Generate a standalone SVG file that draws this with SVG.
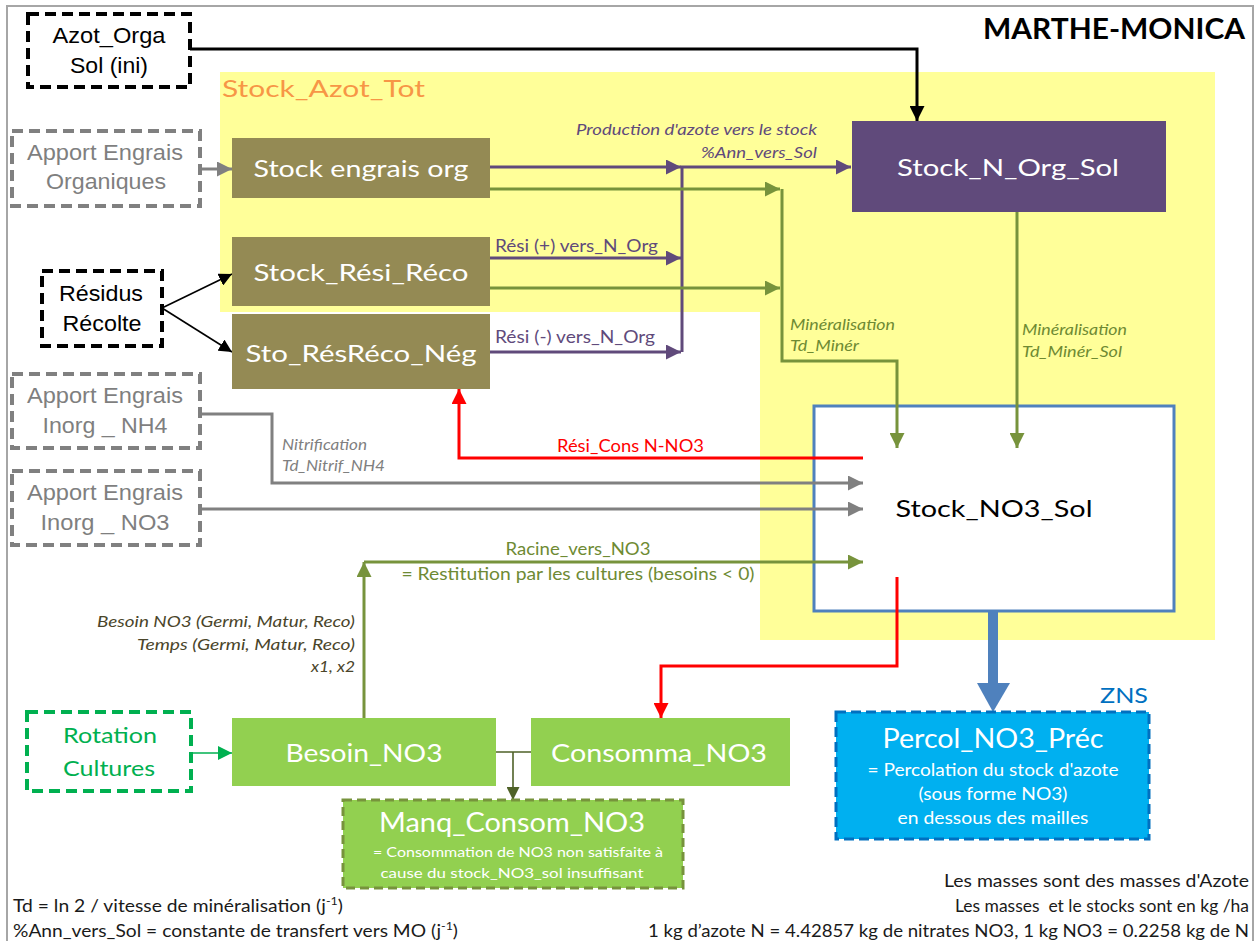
<svg xmlns="http://www.w3.org/2000/svg" width="1256" height="941" viewBox="0 0 1256 941">
<defs>
<style>
text { font-family: Lato, "Noto Sans", sans-serif; }
.ar { font-family: "Liberation Sans", Arial, sans-serif; }
.w { fill: #ffffff; }
.it { font-style: italic; }
.mid { text-anchor: middle; }
.end { text-anchor: end; }
.ln { fill: none; stroke-width: 3; }
.thin { fill: none; stroke-width: 1.6; }
.olive { fill: #948A54; }
.lgreen { fill: #92D050; }
.dashBlk { fill: #ffffff; stroke: #000000; stroke-width: 4; stroke-dasharray: 11 6; }
.dashGry { fill: #ffffff; stroke: #808080; stroke-width: 4; stroke-dasharray: 11 6; }
.gryTxt { fill: #7F7F7F; }
.pur { stroke: #604A7B; }
.grn { stroke: #77933C; }
.gry { stroke: #808080; }
.red { stroke: #FF0000; }
</style>
<marker id="aPur" markerUnits="userSpaceOnUse" markerWidth="15" markerHeight="15" refX="15" refY="7.5" orient="auto"><path d="M0,0 L15,7.5 L0,15 z" fill="#604A7B"/></marker>
<marker id="aGrn" markerUnits="userSpaceOnUse" markerWidth="15" markerHeight="15" refX="15" refY="7.5" orient="auto"><path d="M0,0 L15,7.5 L0,15 z" fill="#77933C"/></marker>
<marker id="aGry" markerUnits="userSpaceOnUse" markerWidth="15" markerHeight="15" refX="15" refY="7.5" orient="auto"><path d="M0,0 L15,7.5 L0,15 z" fill="#808080"/></marker>
<marker id="aRed" markerUnits="userSpaceOnUse" markerWidth="15" markerHeight="15" refX="15" refY="7.5" orient="auto"><path d="M0,0 L15,7.5 L0,15 z" fill="#FF0000"/></marker>
<marker id="aBlk" markerUnits="userSpaceOnUse" markerWidth="15" markerHeight="15" refX="15" refY="7.5" orient="auto"><path d="M0,0 L15,7.5 L0,15 z" fill="#000000"/></marker>
<marker id="aBlkS" markerUnits="userSpaceOnUse" markerWidth="13" markerHeight="13" refX="13" refY="6.5" orient="auto"><path d="M0,0 L13,6.5 L0,13 z" fill="#000000"/></marker>
<marker id="aRot" markerUnits="userSpaceOnUse" markerWidth="14" markerHeight="14" refX="14" refY="7" orient="auto"><path d="M0,0 L14,7 L0,14 z" fill="#00B050"/></marker>
<marker id="aDk" markerUnits="userSpaceOnUse" markerWidth="13" markerHeight="13" refX="13" refY="6.5" orient="auto"><path d="M0,0 L13,6.5 L0,13 z" fill="#4F6228"/></marker>
</defs>

<rect x="0" y="0" width="1256" height="941" fill="#ffffff"/>
<!-- outer frame -->
<rect x="7" y="6" width="1246" height="945" fill="none" stroke="#A6A6A6" stroke-width="2"/>

<text x="1245" y="39" class="end" font-size="28" font-weight="bold" fill="#000" textLength="262" lengthAdjust="spacingAndGlyphs">MARTHE-MONICA</text>

<!-- total nitrogen stock zone -->
<g id="zone-stock-azot-tot">
  <polygon points="220,72 1215,72 1215,640 760,640 760,312 220,312" fill="#FFFF99"/>
  <text x="222" y="97" font-size="24" fill="#F79646" textLength="203" lengthAdjust="spacingAndGlyphs">Stock_Azot_Tot</text>
</g>

<!-- soil nitrate stock: flows end inside it, so it sits below the connectors -->
<g id="stock-no3-sol">
  <rect x="814" y="406" width="360" height="205" fill="#ffffff" stroke="#4F81BD" stroke-width="3"/>
  <text x="994" y="517" class="mid" font-size="24" fill="#000" textLength="197" lengthAdjust="spacingAndGlyphs">Stock_NO3_Sol</text>
</g>

<!-- connectors -->
<g id="connectors">
  <path class="ln" stroke="#000" d="M190,49 H917 V121" marker-end="url(#aBlk)"/>
  <path class="ln gry" d="M200,169 H232" marker-end="url(#aGry)"/>
  <path class="thin" stroke="#000" d="M162,308 L232,274" marker-end="url(#aBlkS)"/>
  <path class="thin" stroke="#000" d="M162,308 L232,352" marker-end="url(#aBlkS)"/>

  <!-- organic production -->
  <path class="ln pur" d="M490,167 H681" marker-end="url(#aPur)"/>
  <path class="ln pur" d="M490,258 H681" marker-end="url(#aPur)"/>
  <path class="ln pur" d="M490,352 H681" marker-end="url(#aPur)"/>
  <path class="ln pur" d="M682,352 V167 H851" marker-end="url(#aPur)"/>

  <!-- mineralisation -->
  <path class="ln grn" d="M490,189 H780" marker-end="url(#aGrn)"/>
  <path class="ln grn" d="M490,288 H780" marker-end="url(#aGrn)"/>
  <path class="ln grn" d="M782,189 V361 H897 V448" marker-end="url(#aGrn)"/>
  <path class="ln grn" d="M1017,212 V448" marker-end="url(#aGrn)"/>

  <!-- nitrification / mineral inputs -->
  <path class="ln gry" d="M200,414 H272 V483 H863" marker-end="url(#aGry)"/>
  <path class="ln gry" d="M200,509 H863" marker-end="url(#aGry)"/>

  <!-- residue consumption -->
  <path class="ln red" d="M863,458 H459 V389" marker-end="url(#aRed)"/>
  <path class="ln red" d="M897,577 V666 H661 V718" marker-end="url(#aRed)"/>

  <!-- root restitution -->
  <path class="ln grn" d="M364,718 V562" marker-end="url(#aGrn)"/>
  <path class="ln grn" d="M364,562 H863" marker-end="url(#aGrn)"/>

  <path class="thin" stroke="#00B050" d="M191,753 H232" marker-end="url(#aRot)"/>
  <path class="thin" stroke="#4F6228" d="M496,752 H531 M513,752 V800" marker-end="url(#aDk)"/>

  <!-- percolation -->
  <path d="M993,611 V684" stroke="#4F81BD" stroke-width="10" fill="none"/>
  <polygon points="977,683 1010,683 993,712" fill="#4F81BD"/>

  <!-- connector labels -->
  <text x="817" y="135" class="end it" font-size="15.5" fill="#604A7B" textLength="241" lengthAdjust="spacingAndGlyphs">Production d'azote vers le stock</text>
  <text x="817" y="158" class="end it" font-size="15.5" fill="#604A7B" textLength="116" lengthAdjust="spacingAndGlyphs">%Ann_vers_Sol</text>
  <text x="495" y="252" font-size="17" fill="#604A7B" textLength="163" lengthAdjust="spacingAndGlyphs">Rési (+) vers_N_Org</text>
  <text x="495" y="343" font-size="17" fill="#604A7B" textLength="160" lengthAdjust="spacingAndGlyphs">Rési (-) vers_N_Org</text>
  <text x="790" y="330" class="it" font-size="15" fill="#6E8A33" textLength="105" lengthAdjust="spacingAndGlyphs">Minéralisation</text>
  <text x="790" y="351" class="it" font-size="15" fill="#6E8A33" textLength="69" lengthAdjust="spacingAndGlyphs">Td_Minér</text>
  <text x="1022" y="335" class="it" font-size="15" fill="#6E8A33" textLength="105" lengthAdjust="spacingAndGlyphs">Minéralisation</text>
  <text x="1022" y="357" class="it" font-size="15" fill="#6E8A33" textLength="100" lengthAdjust="spacingAndGlyphs">Td_Minér_Sol</text>
  <text x="282" y="450" class="it" font-size="15" fill="#7F7F7F" textLength="85" lengthAdjust="spacingAndGlyphs">Nitrification</text>
  <text x="282" y="471" class="it" font-size="15" fill="#7F7F7F" textLength="103" lengthAdjust="spacingAndGlyphs">Td_Nitrif_NH4</text>
  <text x="557" y="452" font-size="17" fill="#FF0000" textLength="147" lengthAdjust="spacingAndGlyphs">Rési_Cons N-NO3</text>
  <text x="578" y="555" class="mid" font-size="17" fill="#6E8A33" textLength="145" lengthAdjust="spacingAndGlyphs">Racine_vers_NO3</text>
  <text x="578" y="580" class="mid" font-size="17" fill="#6E8A33" textLength="353" lengthAdjust="spacingAndGlyphs">= Restitution par les cultures (besoins &lt; 0)</text>
  <text x="355" y="627" class="end it" font-size="16" fill="#4A452A" textLength="258" lengthAdjust="spacingAndGlyphs">Besoin NO3 (Germi, Matur, Reco)</text>
  <text x="355" y="650" class="end it" font-size="16" fill="#4A452A" textLength="218" lengthAdjust="spacingAndGlyphs">Temps (Germi, Matur, Reco)</text>
  <text x="355" y="672" class="end it" font-size="16" fill="#4A452A" textLength="44" lengthAdjust="spacingAndGlyphs">x1, x2</text>
</g>

<!-- nodes -->
<g id="azot-orga-sol-ini">
  <rect x="28" y="14" width="162" height="73" class="dashBlk"/>
  <text x="109" y="43" class="ar mid" font-size="22" fill="#000" textLength="113" lengthAdjust="spacingAndGlyphs">Azot_Orga</text>
  <text x="109" y="73" class="ar mid" font-size="22" fill="#000" textLength="78" lengthAdjust="spacingAndGlyphs">Sol (ini)</text>
</g>

<g id="apport-engrais-organiques">
  <rect x="12" y="131" width="188" height="75" class="dashGry"/>
  <text x="105" y="160" class="ar mid gryTxt" font-size="22" textLength="156" lengthAdjust="spacingAndGlyphs">Apport Engrais</text>
  <text x="106" y="189" class="ar mid gryTxt" font-size="22" textLength="120" lengthAdjust="spacingAndGlyphs">Organiques</text>
</g>

<g id="residus-recolte">
  <rect x="42" y="271" width="120" height="75" class="dashBlk"/>
  <text x="101" y="301" class="ar mid" font-size="22" fill="#000" textLength="84" lengthAdjust="spacingAndGlyphs">Résidus</text>
  <text x="102" y="331" class="ar mid" font-size="22" fill="#000" textLength="79" lengthAdjust="spacingAndGlyphs">Récolte</text>
</g>

<g id="apport-engrais-inorg-nh4">
  <rect x="12" y="374" width="188" height="74" class="dashGry"/>
  <text x="105" y="403" class="ar mid gryTxt" font-size="22" textLength="156" lengthAdjust="spacingAndGlyphs">Apport Engrais</text>
  <text x="105" y="433" class="ar mid gryTxt" font-size="22" textLength="125" lengthAdjust="spacingAndGlyphs">Inorg _ NH4</text>
</g>

<g id="apport-engrais-inorg-no3">
  <rect x="12" y="471" width="188" height="74" class="dashGry"/>
  <text x="105" y="500" class="ar mid gryTxt" font-size="22" textLength="156" lengthAdjust="spacingAndGlyphs">Apport Engrais</text>
  <text x="105" y="530" class="ar mid gryTxt" font-size="22" textLength="129" lengthAdjust="spacingAndGlyphs">Inorg _ NO3</text>
</g>

<g id="stock-engrais-org">
  <rect x="232" y="138" width="258" height="60" class="olive"/>
  <text x="361" y="177" class="mid w" font-size="24" textLength="215" lengthAdjust="spacingAndGlyphs">Stock engrais org</text>
</g>

<g id="stock-resi-reco">
  <rect x="232" y="237" width="258" height="69" class="olive"/>
  <text x="361" y="281" class="mid w" font-size="24" textLength="215" lengthAdjust="spacingAndGlyphs">Stock_Rési_Réco</text>
</g>

<g id="sto-resreco-neg">
  <rect x="232" y="314" width="258" height="75" class="olive"/>
  <text x="361" y="362" class="mid w" font-size="24" textLength="231" lengthAdjust="spacingAndGlyphs">Sto_RésRéco_Nég</text>
</g>

<g id="stock-n-org-sol">
  <rect x="852" y="121" width="314" height="91" fill="#604A7B"/>
  <text x="1008" y="176" class="mid w" font-size="24" textLength="222" lengthAdjust="spacingAndGlyphs">Stock_N_Org_Sol</text>
</g>

<g id="rotation-cultures">
  <rect x="27" y="712" width="164" height="79" fill="#ffffff" stroke="#00B050" stroke-width="4" stroke-dasharray="11 6"/>
  <text x="110" y="743" class="mid" font-size="21" fill="#00B050" textLength="94" lengthAdjust="spacingAndGlyphs">Rotation</text>
  <text x="109" y="776" class="mid" font-size="21" fill="#00B050" textLength="92" lengthAdjust="spacingAndGlyphs">Cultures</text>
</g>

<g id="besoin-no3">
  <rect x="232" y="718" width="264" height="68" class="lgreen"/>
  <text x="364" y="762" class="mid w" font-size="25" textLength="157" lengthAdjust="spacingAndGlyphs">Besoin_NO3</text>
</g>

<g id="consomma-no3">
  <rect x="531" y="718" width="259" height="68" class="lgreen"/>
  <text x="659" y="762" class="mid w" font-size="25" textLength="216" lengthAdjust="spacingAndGlyphs">Consomma_NO3</text>
</g>

<g id="manq-consom-no3">
  <rect x="343" y="800" width="340" height="88" class="lgreen" stroke="#77933C" stroke-width="3" stroke-dasharray="9 5"/>
  <text x="512" y="832" class="mid w" font-size="26" textLength="266" lengthAdjust="spacingAndGlyphs">Manq_Consom_NO3</text>
  <text x="518" y="857" class="mid w" font-size="14" textLength="290" lengthAdjust="spacingAndGlyphs">= Consommation de NO3 non satisfaite à</text>
  <text x="512" y="878" class="mid w" font-size="14" textLength="263" lengthAdjust="spacingAndGlyphs">cause du stock_NO3_sol insuffisant</text>
</g>

<g id="percol-no3-prec">
  <text x="1148" y="703" class="end" font-size="22" fill="#0070C0" textLength="48" lengthAdjust="spacingAndGlyphs">ZNS</text>
  <rect x="836" y="712" width="313" height="127" fill="#00B0F0" stroke="#0070C0" stroke-width="3" stroke-dasharray="10 5"/>
  <text x="993" y="748" class="mid w" font-size="27" textLength="221" lengthAdjust="spacingAndGlyphs">Percol_NO3_Préc</text>
  <text x="993" y="776" class="mid w" font-size="16.5" textLength="251" lengthAdjust="spacingAndGlyphs">= Percolation du stock d'azote</text>
  <text x="993" y="800" class="mid w" font-size="16.5" textLength="149" lengthAdjust="spacingAndGlyphs">(sous forme NO3)</text>
  <text x="993" y="824" class="mid w" font-size="16.5" textLength="191" lengthAdjust="spacingAndGlyphs">en dessous des mailles</text>
</g>

<!-- notes -->
<g id="notes" font-size="17" fill="#1a1a1a">
  <text x="13" y="912" textLength="330" lengthAdjust="spacingAndGlyphs">Td = ln 2 / vitesse de minéralisation (j<tspan dy="-7" font-size="11">-1</tspan><tspan dy="7">)</tspan></text>
  <text x="13" y="937" textLength="445" lengthAdjust="spacingAndGlyphs">%Ann_vers_Sol = constante de transfert vers MO (j<tspan dy="-7" font-size="11">-1</tspan><tspan dy="7">)</tspan></text>
  <text x="1249" y="887" class="end" textLength="305" lengthAdjust="spacingAndGlyphs">Les masses sont des masses d'Azote</text>
  <text x="1249" y="912" class="end" textLength="294" lengthAdjust="spacingAndGlyphs" style="white-space:pre">Les masses  et le stocks sont en kg /ha</text>
  <text x="1249" y="937" class="end" textLength="601" lengthAdjust="spacingAndGlyphs">1 kg d’azote N = 4.42857 kg de nitrates NO3, 1 kg NO3 = 0.2258 kg de N</text>
</g>
</svg>
